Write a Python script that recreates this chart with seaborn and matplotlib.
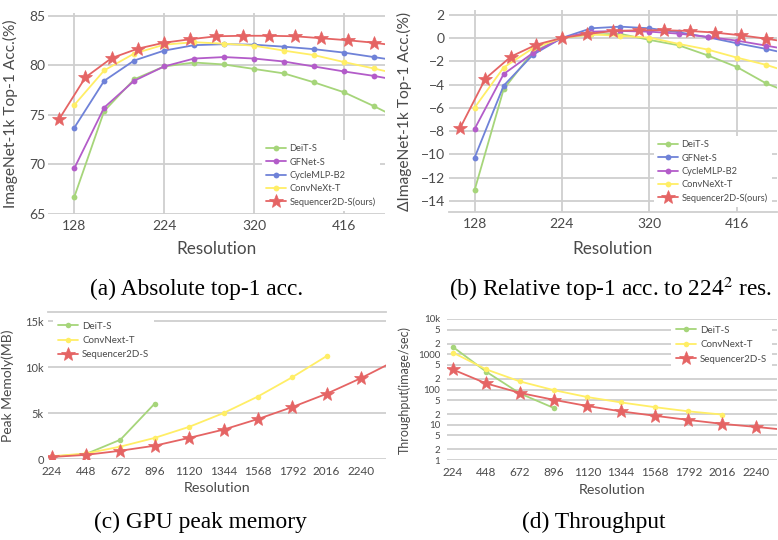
import matplotlib
matplotlib.use("Agg")
import matplotlib.pyplot as plt
import seaborn as sns
import numpy as np

# ---------------- data ----------------
res32 = [128, 160, 192, 224, 256, 288, 320, 352, 384, 416, 448, 480]
res28 = [112, 140, 168, 196, 224, 252, 280, 308, 336, 364, 392, 420, 448, 476]

abs_deit = [66.7, 75.4, 78.6, 79.9, 80.3, 80.1, 79.65, 79.2, 78.3, 77.3, 75.9, 74.4]
abs_gfnet = [69.6, 75.75, 78.45, 79.9, 80.7, 80.85, 80.7, 80.4, 79.9, 79.4, 78.95, 78.4]
abs_cycle = [73.7, 78.45, 80.5, 81.5, 82.05, 82.15, 82.1, 81.9, 81.65, 81.3, 80.85, 80.4]
abs_convnext = [76.0, 79.5, 81.2, 82.1, 82.35, 82.2, 82.0, 81.5, 81.05, 80.35, 79.7, 79.0]
abs_seq = [74.6, 78.8, 80.75, 81.7, 82.3, 82.65, 82.95, 83.0, 83.0, 82.95, 82.75, 82.55, 82.3, 81.95]

rel_deit = [-13.1, -4.4, -1.2, 0.0, 0.3, 0.35, -0.17, -0.63, -1.5, -2.5, -3.9, -4.9]
rel_gfnet = [-10.3, -4.1, -1.45, 0.0, 0.83, 0.97, 0.83, 0.49, 0.06, -0.46, -0.94, -1.5]
rel_cycle = [-7.83, -3.1, -1.3, 0.0, 0.54, 0.6, 0.54, 0.37, 0.09, -0.23, -0.66, -1.1]
rel_convnext = [-6.0, -2.54, -0.89, 0.0, 0.31, 0.17, 0.03, -0.51, -1.0, -1.69, -2.31, -3.1]
rel_seq = [-7.77, -3.49, -1.6, -0.57, 0.0, 0.34, 0.6, 0.66, 0.66, 0.6, 0.46, 0.23, -0.06, -0.4]

mem_res = [224, 448, 672, 896, 1120, 1344, 1568, 1792, 2016, 2240, 2464]
mem_deit = [250, 550, 2100, 6040]
mem_convnext = [300, 600, 1350, 2300, 3500, 5000, 6800, 8900, 11200]
mem_seq = [220, 450, 900, 1450, 2300, 3200, 4350, 5650, 7100, 8800, 10700]

thr_deit = [1630, 318, 77, 30]
thr_convnext = [1120, 370, 169, 96, 61, 43, 31.6, 24, 19.5]
thr_seq = [370, 148, 80, 51, 34, 24, 18, 13.7, 10.6, 8.7, 7.0]

acc_xticks = [128, 224, 320, 416]
mem_xticks = [224, 448, 672, 896, 1120, 1344, 1568, 1792, 2016, 2240]
thr_yticks = [1, 2, 5, 10, 20, 50, 100, 200, 500, 1000, 2000, 5000, 10000]
thr_ylabels = ['1', '2', '5', '10', '2', '5', '100', '2', '5', '1000', '2', '5', '10k']

# ---------------- style ----------------
sns.set_theme(style="white")
plt.rcParams['font.family'] = ['Lato', 'DejaVu Sans']
plt.rcParams['mathtext.fontset'] = 'stix'

GREEN = '#a6d57a'
PURPLE = '#b35cc9'
BLUE = '#6f82d8'
YELLOW = '#ffee66'
RED = '#e56464'
GRID = '#cfcfcf'
TXT = '#4a4a4a'

W, H = 778, 540
fig = plt.figure(figsize=(W / 100, H / 100), dpi=100)


def add_ax(left, top, right, bottom):
    return fig.add_axes([left / W, 1 - bottom / H, (right - left) / W, (bottom - top) / H])


def style_ax(ax, tick_fs, xgrid=True):
    for s in ax.spines.values():
        s.set_visible(False)
    ax.grid(True, axis='y', color=GRID, lw=1.3)
    if xgrid:
        ax.grid(True, axis='x', color=GRID, lw=1.3)
    ax.tick_params(length=0, labelsize=tick_fs, colors=TXT, pad=4)
    ax.set_axisbelow(True)


def circ(ax, x, y, color, label, ms=4.2):
    sns.lineplot(x=x, y=y, ax=ax, color=color, marker='o', markersize=ms,
                 markeredgewidth=0, lw=1.3, label=label, sort=False)


def star(ax, x, y, label, ms=10.5):
    sns.lineplot(x=x, y=y, ax=ax, color=RED, marker='*', markersize=ms,
                 markeredgecolor=RED, markeredgewidth=0.5, lw=1.3, label=label, sort=False)


def legend(ax, fs=7, **kw):
    lg = ax.legend(fontsize=fs, frameon=True, facecolor='white', edgecolor='none',
                   framealpha=1, handlelength=2.1, handletextpad=0.4, **kw)
    for t in lg.get_texts():
        t.set_color(TXT)
    return lg


# ---------------- (a) ----------------
axa = add_ax(48, 13, 385, 214)
circ(axa, res32, abs_deit, GREEN, 'DeiT-S')
circ(axa, res32, abs_gfnet, PURPLE, 'GFNet-S')
circ(axa, res32, abs_cycle, BLUE, 'CycleMLP-B2')
circ(axa, res32, abs_convnext, YELLOW, 'ConvNeXt-T')
star(axa, res28, abs_seq, 'Sequencer2D-S(ours)')
axa.set_xlim(100, 460)
axa.set_ylim(65, 85.3)
axa.set_xticks(acc_xticks)
axa.set_yticks([65, 70, 75, 80, 85])
style_ax(axa, 10)
axa.tick_params(axis='y', pad=2)
axa.set_xlabel('Resolution', fontsize=12.3, color=TXT, labelpad=7)
axa.set_ylabel('ImageNet-1k Top-1 Acc.(%)', fontsize=11.2, color=TXT, labelpad=8)
legend(axa, fs=6.7, loc='lower right', bbox_to_anchor=(1.0, -0.01), labelspacing=0.45,
       borderpad=0.5)

# ---------------- (b) ----------------
axb = add_ax(449, 10, 777, 212)
circ(axb, res32, rel_deit, GREEN, 'DeiT-S')
circ(axb, res32, rel_gfnet, BLUE, 'GFNet-S')
circ(axb, res32, rel_cycle, PURPLE, 'CycleMLP-B2')
circ(axb, res32, rel_convnext, YELLOW, 'ConvNeXt-T')
star(axb, res28, rel_seq, 'Sequencer2D-S(ours)')
axb.set_xlim(100, 460)
axb.set_ylim(-14.95, 2.4)
axb.set_xticks(acc_xticks)
axb.set_yticks([2, 0, -2, -4, -6, -8, -10, -12, -14])
style_ax(axb, 10)
axb.tick_params(axis='y', pad=3)
axb.spines['bottom'].set_visible(True)
axb.spines['bottom'].set_color(GRID)
axb.spines['bottom'].set_linewidth(1.3)
axb.set_xlabel('Resolution', fontsize=12.3, color=TXT, labelpad=8)
axb.set_ylabel('ΔImageNet-1k Top-1 Acc.(%)', fontsize=11.2, color=TXT, labelpad=6)
legend(axb, fs=6.7, loc='lower right', bbox_to_anchor=(1.0, 0.0), labelspacing=0.45,
       borderpad=0.5)

# ---------------- (c) ----------------
axc = add_ax(48, 312, 386, 459)
circ(axc, mem_res[:len(mem_deit)], mem_deit, GREEN, 'DeiT-S', ms=4)
circ(axc, mem_res[:len(mem_convnext)], mem_convnext, YELLOW, 'ConvNext-T', ms=4)
star(axc, mem_res[:len(mem_seq)], mem_seq, 'Sequencer2D-S', ms=10)
axc.set_xlim(200, 2403)
axc.set_ylim(0, 16000)
axc.set_xticks(mem_xticks)
axc.set_yticks([0, 5000, 10000, 15000])
axc.set_yticklabels(['0', '5k', '10k', '15k'])
style_ax(axc, 8.5, xgrid=False)
axc.tick_params(axis='y', labelsize=8, pad=3)
axc.spines['top'].set_visible(True)
axc.spines['top'].set_color(GRID)
axc.spines['top'].set_linewidth(1.3)
axc.tick_params(axis='x', pad=5)
axc.set_xlabel('Resolution', fontsize=10.3, color=TXT, labelpad=4)
axc.set_ylabel('Peak Memoly(MB)', fontsize=10, color=TXT, labelpad=8)
legend(axc, loc='upper left', bbox_to_anchor=(0.0, 1.0), labelspacing=0.55, borderpad=0.5)

# ---------------- (d) ----------------
axd = add_ax(447, 319, 777, 460)
circ(axd, mem_res[:len(thr_deit)], thr_deit, GREEN, 'DeiT-S', ms=4)
circ(axd, mem_res[:len(thr_convnext)], thr_convnext, YELLOW, 'ConvNext-T', ms=4)
star(axd, mem_res[:len(thr_seq)], thr_seq, 'Sequencer2D-S', ms=10)
axd.set_yscale('log')
axd.set_xlim(186, 2382)
axd.set_ylim(1, 10000)
axd.set_xticks(mem_xticks)
axd.set_yticks(thr_yticks)
axd.set_yticklabels(thr_ylabels)
axd.yaxis.set_minor_locator(matplotlib.ticker.NullLocator())
style_ax(axd, 8.5, xgrid=False)
axd.tick_params(axis='y', labelsize=7, pad=5)
axd.tick_params(axis='x', pad=5)
axd.set_xlabel('Resolution', fontsize=10.3, color=TXT, labelpad=4)
axd.set_ylabel('Throughput(image/sec)', fontsize=9, color=TXT, labelpad=5)
legend(axd, loc='upper right', bbox_to_anchor=(1.0, 1.02), labelspacing=0.55, borderpad=0.5)

# ---------------- captions ----------------
cap = dict(family=['Liberation Serif', 'DejaVu Serif'], fontsize=16.8, color='black',
           ha='center', va='center')
fig.text(197 / W, 1 - 289 / H, '(a) Absolute top-1 acc.', **cap)
fig.text(610 / W, 1 - 289 / H, r'(b) Relative top-1 acc. to 224$^{2}$ res.', **cap)
fig.text(200 / W, 1 - 522 / H, '(c) GPU peak memory', **cap)
fig.text(594 / W, 1 - 522 / H, '(d) Throughput', **cap)

fig.savefig('out.png', dpi=100)
